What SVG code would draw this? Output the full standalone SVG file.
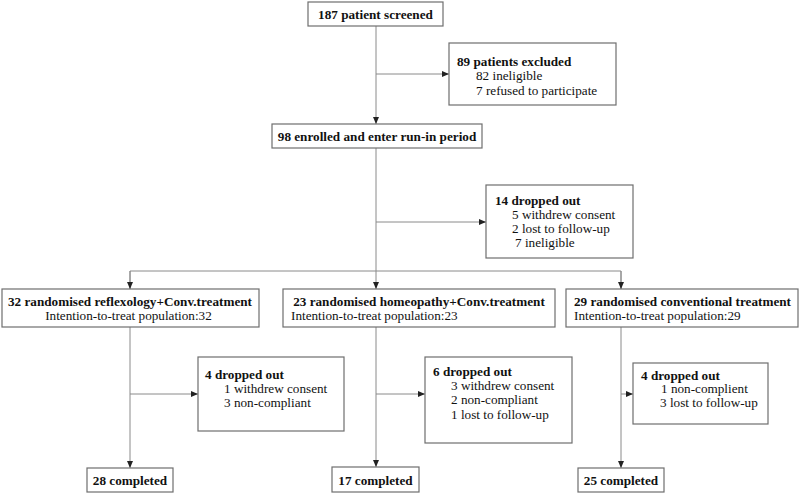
<svg xmlns="http://www.w3.org/2000/svg" width="800" height="493" viewBox="0 0 800 493">
<style>
.box{fill:#fff;stroke:#6e6e6e;stroke-width:1.2}
.ln{fill:none;stroke:#8a8a8a;stroke-width:1}
text{font-family:"Liberation Serif","Times New Roman",serif;font-size:13.2px;fill:#111}
.b{font-weight:bold}
.c{text-anchor:middle}
</style>
<defs>
<marker id="ah" markerUnits="userSpaceOnUse" markerWidth="8" markerHeight="8" refX="7" refY="3" orient="auto">
<path d="M0,0 L7,3 L0,6 z" fill="#222"/>
</marker>
</defs>
<rect width="800" height="493" fill="#fff"/>
<g id="connectors">
<line class="ln" x1="376" y1="26" x2="376" y2="124" marker-end="url(#ah)"/>
<line class="ln" x1="376" y1="74" x2="449" y2="74" marker-end="url(#ah)"/>
<line class="ln" x1="376" y1="148" x2="376" y2="289" marker-end="url(#ah)"/>
<line class="ln" x1="376" y1="222" x2="486" y2="222" marker-end="url(#ah)"/>
<polyline class="ln" points="130,289 130,271 621,271 621,289"/>
<line class="ln" x1="130" y1="271" x2="130" y2="289" marker-end="url(#ah)"/>
<line class="ln" x1="621" y1="271" x2="621" y2="289" marker-end="url(#ah)"/>
<line class="ln" x1="130" y1="327" x2="130" y2="468" marker-end="url(#ah)"/>
<line class="ln" x1="130" y1="394" x2="198" y2="394" marker-end="url(#ah)"/>
<line class="ln" x1="376" y1="327" x2="376" y2="467" marker-end="url(#ah)"/>
<line class="ln" x1="376" y1="394" x2="425" y2="394" marker-end="url(#ah)"/>
<line class="ln" x1="621" y1="327" x2="621" y2="468" marker-end="url(#ah)"/>
<line class="ln" x1="621" y1="394" x2="633" y2="394" marker-end="url(#ah)"/>
</g>
<g id="n1"><rect class="box" x="308" y="2" width="135" height="24"/><text class="b c" x="375.5" y="19">187 patient screened</text></g>
<g id="n2"><rect class="box" x="449" y="43" width="167" height="62"/><text class="b" x="457" y="66">89 patients excluded</text><text x="476" y="80">82 ineligible</text><text x="476" y="95">7 refused to participate</text></g>
<g id="n3"><rect class="box" x="272" y="124" width="210" height="24"/><text class="b c" x="377" y="141">98 enrolled and enter run-in period</text></g>
<g id="n4"><rect class="box" x="486" y="185" width="147" height="73"/><text class="b" x="495" y="205">14 dropped out</text><text x="512" y="219">5 withdrew consent</text><text x="512" y="233">2 lost to follow-up</text><text x="515" y="247">7 ineligible</text></g>
<g id="n5"><rect class="box" x="2" y="289" width="257" height="38"/><text class="b c" x="130" y="306">32 randomised reflexology+Conv.treatment</text><text class="c" x="128.5" y="320">Intention-to-treat population:32</text></g>
<g id="n6"><rect class="box" x="283" y="289" width="272" height="38"/><text class="b c" x="419" y="306">23 randomised homeopathy+Conv.treatment</text><text x="291" y="320">Intention-to-treat population:23</text></g>
<g id="n7"><rect class="box" x="566" y="289" width="232" height="38"/><text class="b" x="574" y="306">29 randomised conventional treatment</text><text x="574" y="320">Intention-to-treat population:29</text></g>
<g id="n8"><rect class="box" x="198" y="357" width="146" height="74"/><text class="b" x="205" y="379">4 dropped out</text><text x="224" y="393">1 withdrew consent</text><text x="224" y="407">3 non-compliant</text></g>
<g id="n9"><rect class="box" x="425" y="357" width="147" height="86"/><text class="b" x="433" y="376">6 dropped out</text><text x="451" y="390">3 withdrew consent</text><text x="451" y="404">2 non-compliant</text><text x="451" y="419">1 lost to follow-up</text></g>
<g id="n10"><rect class="box" x="633" y="363" width="135" height="61"/><text class="b" x="641" y="380">4 dropped out</text><text x="661" y="393">1 non-complient</text><text x="660" y="407">3 lost to follow-up</text></g>
<g id="n11"><rect class="box" x="87" y="468" width="86" height="24"/><text class="b c" x="130" y="485">28 completed</text></g>
<g id="n12"><rect class="box" x="332" y="467" width="87" height="25"/><text class="b c" x="375.5" y="485">17 completed</text></g>
<g id="n13"><rect class="box" x="578" y="468" width="86" height="24"/><text class="b c" x="621" y="485">25 completed</text></g>
</svg>
